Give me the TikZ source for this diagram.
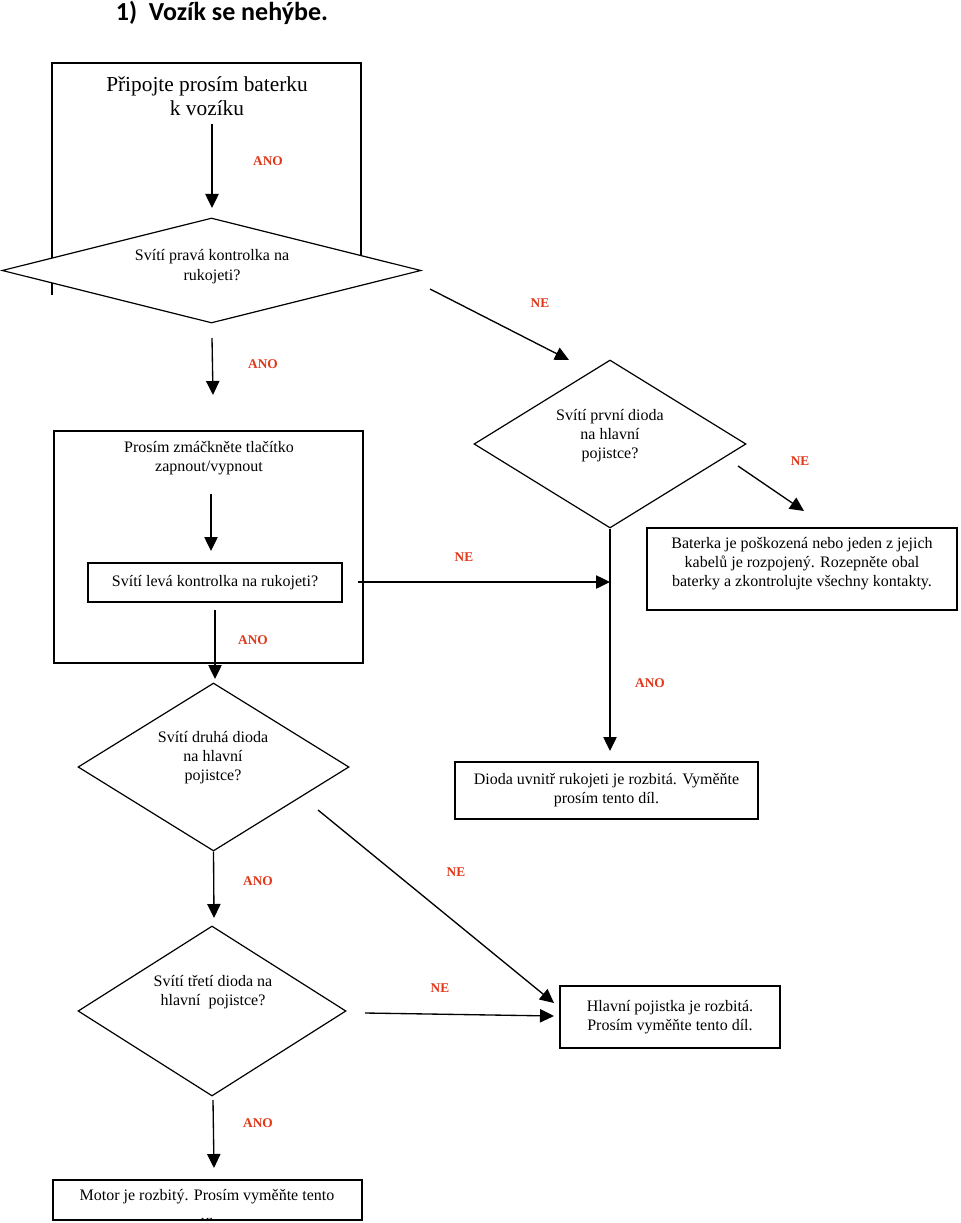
\documentclass[tikz,border=0pt]{standalone}
\usepackage{fontspec}
\setmainfont{Liberation Serif}
\newfontfamily\titlefont{Carlito}
\usetikzlibrary{arrows.meta,shapes.geometric}
\definecolor{lab}{RGB}{225,55,25}
\begin{document}
\begin{tikzpicture}[x=0.75pt,y=-0.75pt,
  arr/.style={line width=1pt,-{Triangle[length=10.5pt,width=10pt]}},
  ln/.style={line width=0.9pt},
  box/.style={draw,line width=0.9pt,fill=white,inner sep=0pt,align=center,font=\fontsize{12}{14.25}\selectfont},
  dia/.style={draw,diamond,line width=0.9pt,fill=white,inner sep=0pt},
  txt/.style={align=center,inner sep=0pt,font=\fontsize{12}{14.25}\selectfont},
  yes/.style={text=lab,font=\bfseries\fontsize{10}{12}\selectfont,inner sep=0pt},
]
\useasboundingbox[fill=white] (0,0) rectangle (960,1223);

% title
\node[font=\titlefont\bfseries\fontsize{19.5}{22}\selectfont,inner sep=0pt] (title) at (222,13) {1)\ \ Vozík se nehýbe.};

% first block
\draw[ln] (52,295) -- (52,63) -- (361,63) -- (361,280);
\node[txt,font=\fontsize{16}{18}\selectfont] (t1) at (207,96) {Připojte prosím baterku\\k vozíku};
\coordinate (a1s) at (212,124);
\coordinate (a1e) at (212,208);
\draw[arr] (a1s) -- (a1e);
\node[yes] (y1) at (268,161) {ANO};

% diamond 1
\node[dia,minimum width=314.25pt,minimum height=78.75pt] (d1) at (211.5,270.5) {};
\node[txt,font=\fontsize{12}{15}\selectfont] (d1t) at (212,267) {Svítí pravá kontrolka na\\rukojeti?};

\coordinate (a2s) at (212,338);
\coordinate (a2e) at (213,395);
\draw[arr] (a2s) -- (a2e);
\node[yes] (y2) at (263,364) {ANO};

\coordinate (a3s) at (430,289);
\coordinate (a3e) at (569,360);
\draw[arr] (a3s) -- (a3e);
\node[yes] (n1) at (540,303) {NE};

% second block
\node[box,minimum width=231.75pt,minimum height=174pt] (b2) at (208.5,547) {};
\node[txt] (b2t) at (209,458) {Prosím zmáčkněte tlačítko\\zapnout/vypnout};
\coordinate (a4s) at (211,494);
\coordinate (a4e) at (211,551);
\draw[arr] (a4s) -- (a4e);
\node[box,minimum width=190.5pt,minimum height=29.25pt] (b3) at (215,582.5) {Svítí levá kontrolka na rukojeti?};

\coordinate (a5s) at (358,582);
\coordinate (a5e) at (610,582);
\draw[arr] (a5s) -- (a5e);
\node[yes] (n2) at (464,557) {NE};

\coordinate (a6s) at (215,610);
\coordinate (a6e) at (215,679);
\draw[arr] (a6s) -- (a6e);
\node[yes] (y3) at (253,640) {ANO};

% diamond 2
\node[dia,minimum width=204pt,minimum height=126pt] (d2) at (610,444) {};
\node[txt] (d2t) at (610,436) {Svítí první dioda\\na hlavní\\pojistce?};

\coordinate (a7s) at (738,466);
\coordinate (a7e) at (804,511);
\draw[arr] (a7s) -- (a7e);
\node[yes] (n3) at (800,461) {NE};

\node[box,minimum width=232.5pt,minimum height=61.5pt] (bat) at (802,569) {};
\node[txt] (batt) at (802,564) {Baterka je poškozená nebo jeden z jejich\\kabelů je rozpojený. Rozepněte obal\\baterky a zkontrolujte všechny kontakty.};

\coordinate (a8e) at (610,751);
\draw[arr] (d2.south) -- (a8e);
\node[yes] (y4) at (650,683) {ANO};

\node[box,minimum width=227.25pt,minimum height=42.75pt] (dio) at (606.5,790.5) {Dioda uvnitř rukojeti je rozbitá. Vyměňte\\prosím tento díl.};

% diamond 3
\node[dia,minimum width=203.25pt,minimum height=126pt] (d3) at (213.5,767) {};
\node[txt] (d3t) at (213,758) {Svítí druhá dioda\\na hlavní\\pojistce?};

\coordinate (a9s) at (318,810);
\coordinate (a9e) at (554,1003);
\draw[arr] (a9s) -- (a9e);
\node[yes] (n4) at (456,872) {NE};

\coordinate (a10e) at (214,918);
\draw[arr] (d3.south) -- (a10e);
\node[yes] (y5) at (258,881) {ANO};

% diamond 4
\node[dia,minimum width=201pt,minimum height=127.5pt] (d4) at (212,1011) {};
\node[txt] (d4t) at (213,992) {Svítí třetí dioda na\\hlavní\ \ pojistce?};

\coordinate (a11s) at (365,1013);
\coordinate (a11e) at (554,1016);
\draw[arr] (a11s) -- (a11e);
\node[yes] (n5) at (440,988) {NE};

\node[box,minimum width=165pt,minimum height=46.5pt] (hp) at (670,1017) {Hlavní pojistka je rozbitá.\\Prosím vyměňte tento díl.};

\coordinate (a12s) at (213,1100);
\coordinate (a12e) at (214,1168);
\draw[arr] (a12s) -- (a12e);
\node[yes] (y6) at (258,1123) {ANO};

\node[box,minimum width=231.75pt,minimum height=30pt] (mot) at (207.5,1200) {};
\node[txt] (mott) at (207,1197) {Motor je rozbitý. Prosím vyměňte tento};
\begin{scope}
\clip (54,1181.5) rectangle (361,1218.5);
\node[txt] (mott2) at (207,1224) {díl.};
\end{scope}
\end{tikzpicture}
\end{document}
